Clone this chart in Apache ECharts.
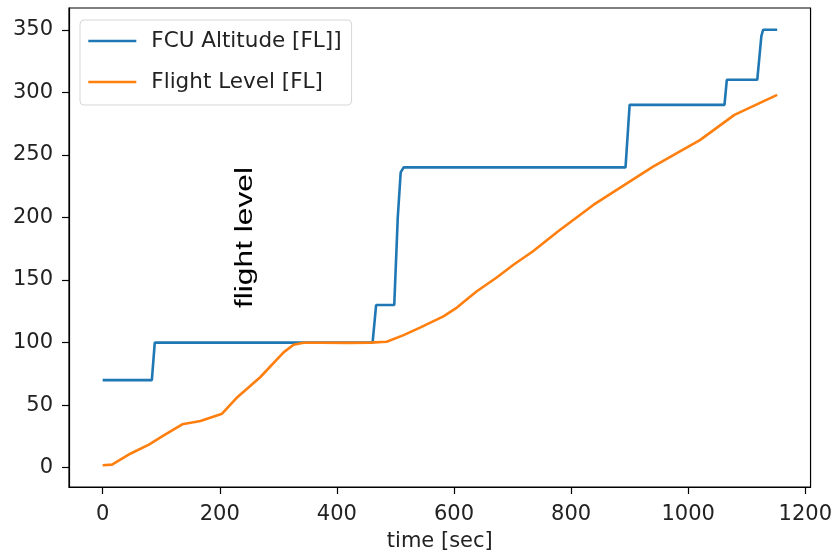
<!DOCTYPE html>
<html>
<head>
<meta charset="utf-8">
<script src="https://cdn.jsdelivr.net/npm/echarts@6/dist/echarts.min.js"></script>
<style>
  html, body { margin: 0; padding: 0; background: #fff; }
  #chart { width: 835px; height: 557px; }
</style>
</head>
<body>
<div id="chart"></div>
<script>
// FCU Altitude [FL]]
var fcuTime = [0, 84, 89, 461, 467, 498, 504, 509, 514, 893, 900, 1062, 1066, 1118, 1125, 1128, 1152];
var fcuAlt = [70, 70, 100, 100, 130, 130, 200, 236, 240, 240, 290, 290, 310, 310, 345, 350, 350];

// Flight Level [FL]
var flTime = [0, 16, 48, 79, 105, 136, 167, 204, 230, 269, 309, 326, 343, 372, 420, 457, 485, 514, 542, 582, 605, 639, 673, 701, 735, 778, 838, 940, 1020, 1079, 1152];
var flLevel = [2, 2.5, 11.4, 18.5, 26, 34.7, 37.4, 43.2, 56.4, 72.3, 92.2, 98.3, 99.9, 99.9, 99.8, 100, 100.7, 106, 112, 121, 128, 141, 152, 162, 173, 189, 210, 240.6, 261.8, 282, 298];

var xTicks = [0, 200, 400, 600, 800, 1000, 1200];
var yTicks = [0, 50, 100, 150, 200, 250, 300, 350];

function pairs(xs, ys) {
  var out = [];
  for (var i = 0; i < xs.length; i++) {
    out.push([xs[i], ys[i]]);
  }
  return out;
}

var myChart = echarts.init(document.getElementById("chart"));
var tickFont = "DejaVu Sans";

var option = {
  animation: false,
  backgroundColor: "#fff",
  color: ["#1f77b4", "#ff7f0e"],
  grid: {
    left: 69,
    right: 24,
    top: 8,
    bottom: 67,
    show: true,
    borderColor: "#000",
    borderWidth: 1.2,
    containLabel: false
  },
  legend: {
    orient: "vertical",
    left: 80,
    top: 20,
    itemWidth: 48,
    itemHeight: 14,
    itemGap: 19,
    padding: [10, 10, 12, 7],
    backgroundColor: "rgba(255,255,255,0.8)",
    borderColor: "#d6d6d6",
    borderWidth: 1,
    borderRadius: 4,
    itemStyle: { opacity: 0 },
    lineStyle: { width: 2.6 },
    textStyle: {
      fontFamily: tickFont,
      fontSize: 21.5,
      color: "#222",
      padding: [0, 0, 0, 10]
    },
    data: ["FCU Altitude [FL]]", "Flight Level [FL]"]
  },
  xAxis: {
    type: "value",
    min: -57.5,
    max: 1209,
    name: "time [sec]",
    nameLocation: "middle",
    nameGap: 44,
    nameTextStyle: { fontFamily: tickFont, fontSize: 21, color: "#222" },
    splitLine: { show: false },
    axisLine: { show: true, onZero: false, lineStyle: { color: "#000", width: 1.2 } },
    axisTick: { show: true, length: 7, customValues: xTicks, lineStyle: { color: "#000", width: 1.2 } },
    axisLabel: {
      customValues: xTicks,
      margin: 17,
      fontFamily: tickFont,
      fontSize: 21,
      color: "#222",
      formatter: function (v) { return String(v); }
    }
  },
  yAxis: {
    type: "value",
    min: -15.4,
    max: 367.4,
    splitLine: { show: false },
    axisLine: { show: true, onZero: false, lineStyle: { color: "#000", width: 1.2 } },
    axisTick: { show: true, length: 7, customValues: yTicks, lineStyle: { color: "#000", width: 1.2 } },
    axisLabel: {
      customValues: yTicks,
      margin: 16,
      fontFamily: tickFont,
      fontSize: 21,
      color: "#222",
      formatter: function (v) { return String(v); }
    }
  },
  graphic: [
    {
      type: "text",
      x: 246,
      y: 237.5,
      rotation: Math.PI / 2,
      scaleX: 1.38,
      style: {
        text: "flight level",
        fontFamily: "Liberation Sans",
        fontSize: 23,
        fill: "#000",
        align: "center",
        verticalAlign: "middle"
      }
    }
  ],
  series: [
    {
      name: "FCU Altitude [FL]]",
      type: "line",
      symbol: "none",
      lineStyle: { width: 2.6 },
      data: pairs(fcuTime, fcuAlt)
    },
    {
      name: "Flight Level [FL]",
      type: "line",
      symbol: "none",
      lineStyle: { width: 2.6 },
      data: pairs(flTime, flLevel)
    }
  ]
};
myChart.setOption(option);
</script>
</body>
</html>
